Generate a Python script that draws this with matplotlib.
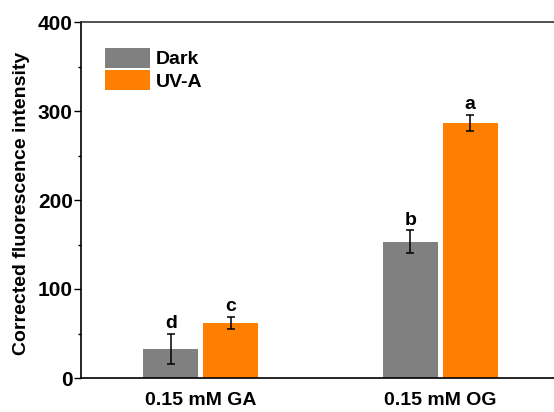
import numpy as np
import matplotlib.pyplot as plt

plt.rcParams['font.family'] = ['Liberation Sans', 'DejaVu Sans']
plt.rcParams['font.weight'] = 'bold'

# Data
groups = ['0.15 mM GA', '0.15 mM OG']
series = ['Dark', 'UV-A']
dark_mean = [33, 153]
dark_err = [17, 13]
uva_mean = [62, 287]
uva_err = [7, 9]
dark_letters = ['d', 'b']
uva_letters = ['c', 'a']

colors = {'Dark': '#808080', 'UV-A': '#FF8000'}

fig = plt.figure(figsize=(5.54, 4.12), dpi=100)
ax = fig.add_axes([81 / 554, 34 / 412, 479 / 554, 356 / 412])

x = np.arange(1, len(groups) + 1)
w = 0.23
off = 0.125

ax.bar(x - off, dark_mean, w, color=colors['Dark'], label='Dark')
ax.bar(x + off, uva_mean, w, color=colors['UV-A'], label='UV-A')
ax.errorbar(x - off, dark_mean, yerr=dark_err, fmt='none', ecolor='black',
            elinewidth=1.1, capsize=3, capthick=1.1)
ax.errorbar(x + off, uva_mean, yerr=uva_err, fmt='none', ecolor='black',
            elinewidth=1.1, capsize=3, capthick=1.1)

for xi, m, e, t in zip(x - off, dark_mean, dark_err, dark_letters):
    ax.text(xi, m + e + 1.5, t, ha='center', va='bottom', fontsize=14, fontweight='bold')
for xi, m, e, t in zip(x + off, uva_mean, uva_err, uva_letters):
    ax.text(xi, m + e + 1.5, t, ha='center', va='bottom', fontsize=14, fontweight='bold')

ax.set_xlim(0.5, 2.5)
ax.set_ylim(0, 400)
ax.set_xticks(x)
ax.set_xticklabels(groups, fontsize=14, fontweight='bold')
ax.tick_params(axis='x', length=0, pad=10)
ax.set_yticks([0, 100, 200, 300, 400])
ax.set_yticks([50, 150, 250, 350], minor=True)
ax.tick_params(axis='y', which='major', length=5, width=1, labelsize=15, direction='out', pad=1)
ax.tick_params(axis='y', which='minor', length=2.5, width=1, direction='out')
for lab in ax.get_yticklabels():
    lab.set_fontweight('bold')
ax.set_ylabel('Corrected fluorescence intensity', fontsize=14, fontweight='bold')
ax.yaxis.set_label_coords(-0.107, 0.49)

ax.spines['right'].set_visible(False)
for s in ['left', 'bottom', 'top']:
    ax.spines[s].set_linewidth(1.2)
ax.spines['top'].set_color('#333333')

ax.legend(loc='upper left', bbox_to_anchor=(0.05, 0.927), frameon=False,
          prop={'size': 14, 'weight': 'bold'}, handlelength=2.32, handleheight=1.19,
          handletextpad=0.3, labelspacing=0.1, borderaxespad=0, borderpad=0)

fig.savefig('out.png', dpi=100)
